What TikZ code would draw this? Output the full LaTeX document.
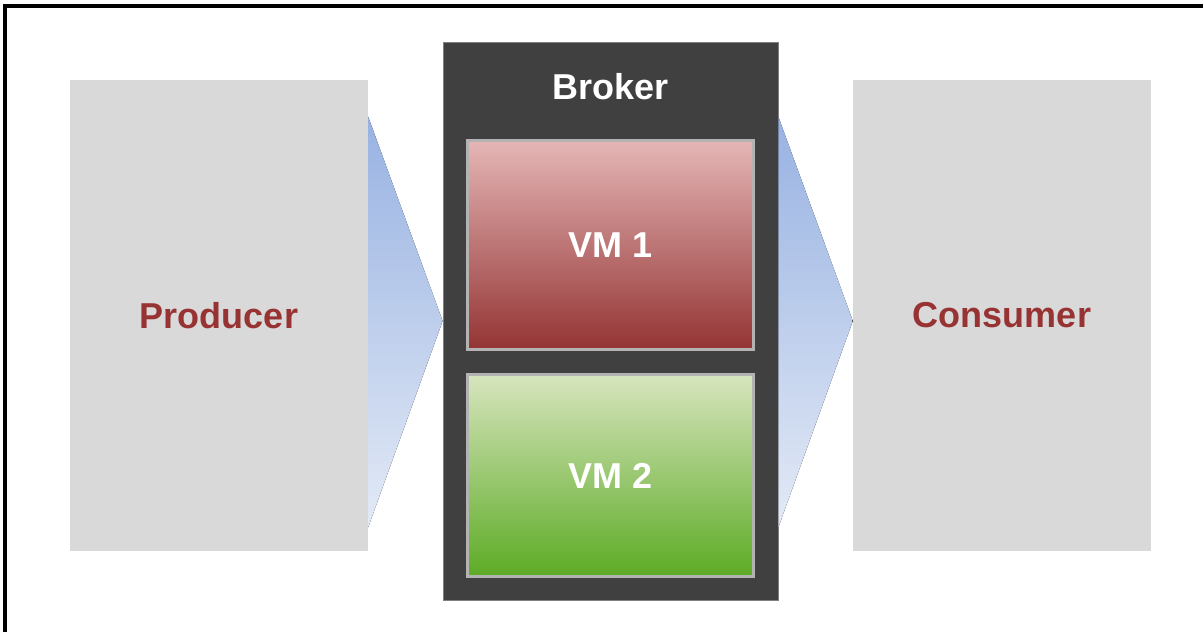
\documentclass[tikz,border=0pt]{standalone}
\usepackage{fontspec}
\setmainfont{Liberation Sans}
\usetikzlibrary{positioning,calc}

\definecolor{boxgray}{HTML}{D9D9D9}
\definecolor{brokergray}{HTML}{404040}
\definecolor{labelred}{HTML}{983333}
\definecolor{vmedge}{HTML}{B3B3B3}
\definecolor{redtop}{HTML}{E5B6B6}
\definecolor{redbot}{HTML}{943434}
\definecolor{greentop}{HTML}{D7E5BE}
\definecolor{greenbot}{HTML}{5DAB25}
\definecolor{flowtop}{HTML}{98B2E2}
\definecolor{flowbot}{HTML}{E3EAF6}

\newcommand{\bigbold}{\fontsize{36}{40}\selectfont\bfseries}

\begin{document}
\begin{tikzpicture}[x=1pt,y=-1pt,
    endbox/.style={fill=boxgray,minimum width=298pt,minimum height=471pt,
                   inner sep=0pt,font=\bigbold,text=labelred},
    brokerbox/.style={fill=brokergray,draw=gray,line width=0.8pt,
                      minimum width=335pt,minimum height=558pt,inner sep=0pt},
    vmbox/.style={draw=vmedge,line width=3pt,minimum width=286pt,
                  inner sep=0pt,font=\bigbold,text=white},
    flow/.style={top color=flowtop,bottom color=flowbot}]
	\useasboundingbox (0,0) rectangle (1203,632);
	\draw[line width=4pt] (5,632) -- (5,5.5) -- (1203,5.5);

	\node[endbox]		(producer)	at (219,315.5)	{Producer};
	\node[brokerbox]	(broker)	at (610.5,321)	{};
	\node[text=white,font=\bigbold]	(brokerlabel)	at (610.5,87)	{Broker};
	\node[vmbox,minimum height=209pt,top color=redtop,bottom color=redbot]
				(vm1)	at (610.5,245)	{VM 1};
	\node[vmbox,minimum height=202pt,top color=greentop,bottom color=greenbot]
				(vm2)	at (610.5,475.5)	{VM 2};
	\node[endbox]		(consumer)	at (1002,315.5)	{Consumer};

	% flow chevrons
	\fill[flow] ($(producer.north east)+(0,37)$) -- (broker.west)
		-- ($(producer.south east)+(0,-24)$) -- cycle;
	\fill[flow] ($(broker.east |- producer.north)+(0,37)$) -- (consumer.west |- broker.east)
		-- ($(broker.east |- producer.south)+(0,-24)$) -- cycle;
\end{tikzpicture}
\end{document}
